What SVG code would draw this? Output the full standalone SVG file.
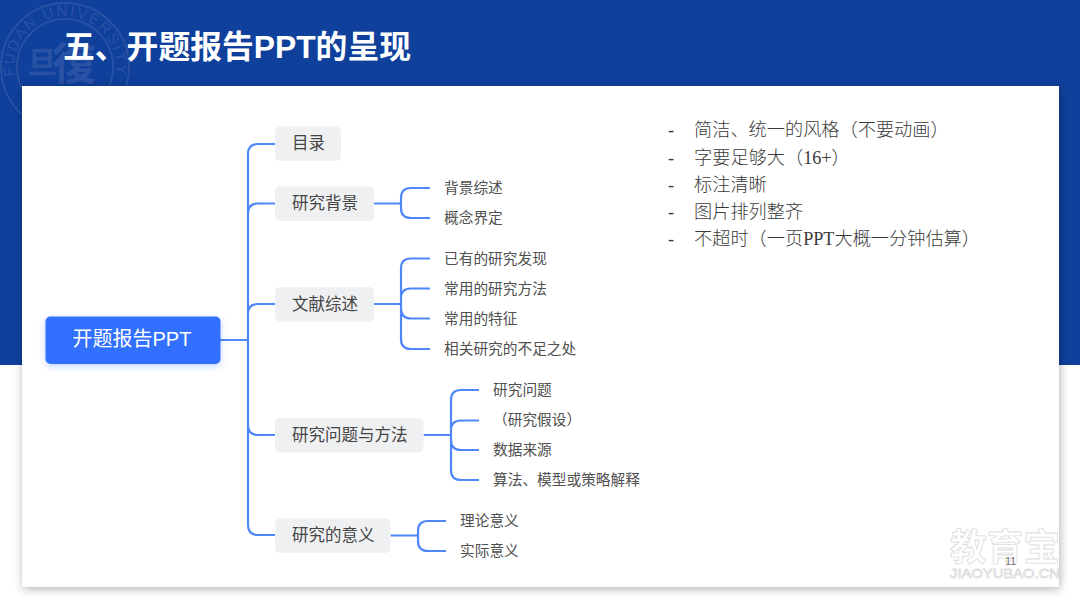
<svg xmlns="http://www.w3.org/2000/svg" xmlns:xlink="http://www.w3.org/1999/xlink" width="1080" height="601" viewBox="0 0 1080 601">
<style>
text{font-family:"Noto Sans CJK SC","Noto Sans",sans-serif}
.c{fill:none;stroke:#4f87fb;stroke-width:2.200;stroke-linejoin:round}
.b{fill:#eff0f2}
.l1{font-size:16.500px;fill:#454545}
.l2{font-size:14.700px;fill:#505050}
.r{font-family:"Liberation Serif","Noto Sans CJK SC",serif;font-size:18.200px;font-weight:300;fill:#3a3a3a}
.lat{font-family:"Liberation Sans","Noto Sans CJK SC",sans-serif}
.seal{fill:none;stroke:#2a52a4}
.wm{fill:#fff;stroke:#dcdcdc;stroke-width:.8}
</style>
<defs>
<filter id="sh" x="-5%" y="-5%" width="110%" height="110%"><feDropShadow dx="1" dy="2" stdDeviation="5" flood-color="#000" flood-opacity=".3"/></filter>
<filter id="rs" x="-10%" y="-20%" width="120%" height="150%"><feDropShadow dx="0" dy="2" stdDeviation="3" flood-color="#3370ff" flood-opacity=".3"/></filter>
<path id="sealArc" d="M14.800 76A51 51 0 1 1 115.200 76"/>
<clipPath id="wmc"><rect x="900" y="500" width="159" height="87"/></clipPath>
</defs>
<rect width="1080" height="601" fill="#fff"/>
<rect width="1080" height="365" fill="#0e409c"/>
<g id="seal">
<circle class="seal" cx="65" cy="67" r="48" stroke-width="1.800"/>
<circle class="seal" cx="65" cy="67" r="64" stroke-width="1.800"/>
<text font-size="15" fill="#2a52a4" class="lat"><textPath xlink:href="#sealArc" href="#sealArc" textLength="176" lengthAdjust="spacing">FUDAN UNIVERSITY</textPath></text>
<text x="27" y="73" font-size="30" font-weight="700" fill="#2a52a4">旦</text>
<text x="52" y="80" font-size="44" font-weight="700" fill="#2a52a4">復</text>
</g>
<text id="title" class="lat" x="63" y="58" font-size="31.800" font-weight="700" fill="#fff">五、开题报告PPT的呈现</text>
<rect id="card" x="22" y="86" width="1037" height="501" fill="#fff" filter="url(#sh)"/>
<g id="connectors">
<path class="c" d="M220 340H248M275 144H258Q248 144 248 154V525Q248 535 258 535H275M275 203.500H258Q248 203.500 248 213.500M275 304H258Q248 304 248 314M248 425Q248 435 258 435H275"/>
<path class="c" d="M374 203.500H401M430 188H411Q401 188 401 198V208Q401 218 411 218H430"/>
<path class="c" d="M374 304H401M430 258.500H411Q401 258.500 401 268.500V339Q401 349 411 349H430M430 288.500H411Q401 288.500 401 298.500M401 308.500Q401 318.500 411 318.500H430"/>
<path class="c" d="M423.500 435H451M479 390H461Q451 390 451 400V470Q451 480 461 480H479M479 420.500H461Q451 420.500 451 430.500M451 440Q451 450 461 450H479"/>
<path class="c" d="M390.500 535.500H418M446 521H428Q418 521 418 531V541Q418 551 428 551H446"/>
</g>
<g id="root"><rect x="45.500" y="316.500" width="175" height="47.500" rx="5" fill="#3370ff" filter="url(#rs)"/><text class="lat" x="72.500" y="346" font-size="20" fill="#fff">开题报告PPT</text></g>
<g id="n-mulu"><rect class="b" x="275" y="126.500" width="66" height="34.500" rx="5"/><text class="l1" x="292" y="149">目录</text></g>
<g id="n-beijing"><rect class="b" x="275" y="186.500" width="99" height="34.500" rx="5"/><text class="l1" x="292" y="209">研究背景</text></g>
<g id="n-wenxian"><rect class="b" x="275" y="287" width="99" height="34.500" rx="5"/><text class="l1" x="292" y="310">文献综述</text></g>
<g id="n-wenti"><rect class="b" x="275" y="418" width="148.500" height="34.500" rx="5"/><text class="l1" x="292" y="441">研究问题与方法</text></g>
<g id="n-yiyi"><rect class="b" x="275" y="518.500" width="115.500" height="34.500" rx="5"/><text class="l1" x="292" y="541">研究的意义</text></g>
<g id="leaves">
<text class="l2" x="444" y="193">背景综述</text>
<text class="l2" x="444" y="223">概念界定</text>
<text class="l2" x="444" y="263.500">已有的研究发现</text>
<text class="l2" x="444" y="293.500">常用的研究方法</text>
<text class="l2" x="444" y="323.500">常用的特征</text>
<text class="l2" x="444" y="354">相关研究的不足之处</text>
<text class="l2" x="493" y="395">研究问题</text>
<text class="l2" x="493" y="425">（研究假设）</text>
<text class="l2" x="493" y="455">数据来源</text>
<text class="l2" x="493" y="485">算法、模型或策略解释</text>
<text class="l2" x="460" y="526">理论意义</text>
<text class="l2" x="460" y="556">实际意义</text>
</g>
<g id="notes">
<text class="r" x="668" y="136">-</text><text class="r" x="694" y="136">简洁、统一的风格（不要动画）</text>
<text class="r" x="668" y="164">-</text><text class="r" x="694" y="164">字要足够大（16+）</text>
<text class="r" x="668" y="191">-</text><text class="r" x="694" y="191">标注清晰</text>
<text class="r" x="668" y="218">-</text><text class="r" x="694" y="218">图片排列整齐</text>
<text class="r" x="668" y="245">-</text><text class="r" x="694" y="245">不超时（一页PPT大概一分钟估算）</text>
</g>
<g id="watermark" clip-path="url(#wmc)">
<text class="wm" x="950" y="561" font-size="37" font-weight="700" textLength="110" lengthAdjust="spacingAndGlyphs">教育宝</text>
<text class="wm" x="950" y="578" font-size="13" textLength="110" lengthAdjust="spacingAndGlyphs" style="font-family:'Liberation Sans',sans-serif">JIAOYUBAO.CN</text>
</g>
<text id="page" x="1005" y="565" font-size="11" fill="#777" style="font-family:'Liberation Sans',sans-serif">11</text>
</svg>
